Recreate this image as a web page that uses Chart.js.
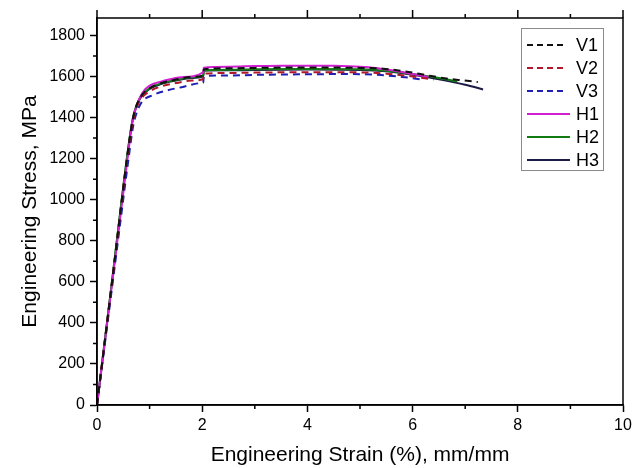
<!DOCTYPE html>
<html>
<head>
<meta charset="utf-8">
<script src="https://cdn.jsdelivr.net/npm/chart.js@4"></script>
<style>
  html, body { margin: 0; padding: 0; background: #fff; }
</style>
</head>
<body>
<canvas id="stressStrain" width="639" height="468"></canvas>
<script>
// strain in %, stress in MPa
const v1Strain = [0, 0.3, 0.6, 0.68, 0.75, 0.85, 1.0, 1.2, 1.5, 1.8, 2.02, 2.03, 2.5, 3, 4, 5, 5.44, 5.86, 6.36, 6.68, 6.96, 7.24];
const v1Stress = [0, 630, 1260, 1392, 1458, 1508, 1543, 1566, 1585, 1598, 1606, 1636, 1640, 1642, 1644, 1642, 1638, 1625, 1602, 1589, 1581, 1573];

const v2Strain = [0, 0.3, 0.6, 0.68, 0.75, 0.85, 1.0, 1.2, 1.5, 1.8, 2.02, 2.03, 2.5, 3, 4, 5, 5.5, 6, 6.4];
const v2Stress = [0, 625, 1250, 1380, 1445, 1495, 1528, 1550, 1568, 1580, 1588, 1614, 1617, 1619, 1621, 1620, 1614, 1600, 1585];

const v3Strain = [0, 0.3, 0.6, 0.69, 0.75, 0.85, 1.08, 1.33, 1.61, 1.99, 2.02, 2.03, 2.5, 3, 4, 4.8, 5.4, 5.8, 6.2];
const v3Stress = [0, 600, 1200, 1362, 1420, 1475, 1511, 1532, 1548, 1568, 1570, 1602, 1605, 1608, 1611, 1612, 1607, 1598, 1585];

const h1Strain = [0, 0.3, 0.6, 0.66, 0.72, 0.82, 0.92, 1.08, 1.23, 1.61, 2.02, 2.03, 2.5, 3, 3.5, 4, 4.5, 5, 5.3, 5.6, 6.0, 6.3];
const h1Stress = [0, 620, 1240, 1360, 1430, 1500, 1540, 1565, 1576, 1597, 1621, 1643, 1648, 1651, 1653, 1653, 1652, 1648, 1642, 1630, 1612, 1598];

const h2Strain = [0, 0.3, 0.6, 0.68, 0.75, 0.85, 1.0, 1.2, 1.5, 1.8, 2.02, 2.03, 2.5, 3, 4, 5, 5.5, 6, 6.5, 6.85];
const h2Stress = [0, 635, 1265, 1395, 1460, 1510, 1543, 1565, 1583, 1596, 1604, 1630, 1633, 1635, 1637, 1635, 1628, 1612, 1593, 1576];

const h3Strain = [0, 0.3, 0.6, 0.68, 0.75, 0.85, 1.0, 1.2, 1.5, 1.8, 2.02, 2.03, 2.5, 3, 4, 5, 5.5, 6, 6.5, 7, 7.34];
const h3Stress = [0, 630, 1260, 1390, 1455, 1505, 1540, 1562, 1580, 1593, 1601, 1628, 1630, 1632, 1634, 1632, 1625, 1608, 1586, 1560, 1537];

const xTickLabels = [0, 2, 4, 6, 8, 10];
const yTickLabels = [0, 200, 400, 600, 800, 1000, 1200, 1400, 1600, 1800];

const FONT = "'Liberation Sans', Arial, sans-serif";

const toPoints = (xs, ys) => xs.map((x, i) => ({ x: x, y: ys[i] }));

const series = [
  { label: "V1", x: v1Strain, y: v1Stress, color: "#111111", dash: [7, 5] },
  { label: "V2", x: v2Strain, y: v2Stress, color: "#b2182b", dash: [7, 5] },
  { label: "V3", x: v3Strain, y: v3Stress, color: "#1f1fb4", dash: [7, 5] },
  { label: "H1", x: h1Strain, y: h1Stress, color: "#d21fd2", dash: [] },
  { label: "H2", x: h2Strain, y: h2Stress, color: "#127a12", dash: [] },
  { label: "H3", x: h3Strain, y: h3Stress, color: "#1b1b46", dash: [] },
];

const datasets = series.map((s) => ({
  label: s.label,
  data: toPoints(s.x, s.y),
  borderColor: s.color,
  backgroundColor: s.color,
  borderDash: s.dash,
  borderWidth: 2,
  pointRadius: 0,
  fill: false,
  cubicInterpolationMode: "monotone",
}));

// frame, minor ticks, top ticks and the boxed legend
const frameAndLegend = {
  id: "frameAndLegend",
  afterDraw(chart) {
    const { ctx, chartArea: a, scales } = chart;
    ctx.save();
    ctx.strokeStyle = "#000";
    ctx.lineWidth = 1.5;
    ctx.strokeRect(a.left, a.top, a.right - a.left, a.bottom - a.top);

    ctx.beginPath();
    for (let v = 1; v < 10; v += 2) {
      const px = scales.x.getPixelForValue(v);
      ctx.moveTo(px, a.bottom);
      ctx.lineTo(px, a.bottom + 4);
      ctx.moveTo(px, a.top);
      ctx.lineTo(px, a.top - 4);
    }
    xTickLabels.forEach((v) => {
      const px = scales.x.getPixelForValue(v);
      ctx.moveTo(px, a.top);
      ctx.lineTo(px, a.top - 8);
    });
    for (let v = 100; v < 1850; v += 200) {
      const py = scales.y.getPixelForValue(v);
      ctx.moveTo(a.left, py);
      ctx.lineTo(a.left - 4, py);
    }
    ctx.stroke();

    // legend box
    const bx = 521, by = 28, bw = 82, bh = 142;
    ctx.strokeStyle = "#8a8a8a";
    ctx.lineWidth = 1;
    ctx.strokeRect(bx + 0.5, by + 0.5, bw, bh);
    ctx.font = "18px " + FONT;
    ctx.textBaseline = "middle";
    ctx.fillStyle = "#000";
    chart.data.datasets.forEach((ds, i) => {
      const cy = 45 + i * 23;
      ctx.beginPath();
      ctx.strokeStyle = ds.borderColor;
      ctx.lineWidth = 2;
      ctx.setLineDash(ds.borderDash.length ? [6, 4] : []);
      ctx.moveTo(527, cy);
      ctx.lineTo(ds.borderDash.length ? 565 : 570, cy);
      ctx.stroke();
      ctx.setLineDash([]);
      ctx.fillText(ds.label, 576, cy + 1);
    });
    ctx.restore();
  },
};

const chart = new Chart(document.getElementById("stressStrain"), {
  type: "line",
  data: { datasets: datasets },
  options: {
    responsive: false,
    animation: false,
    devicePixelRatio: 1,
    layout: { padding: { top: 18, right: 16, left: 0, bottom: 0 } },
    plugins: {
      legend: { display: false },
      tooltip: { enabled: false },
    },
    scales: {
      x: {
        type: "linear",
        min: 0,
        max: 10,
        ticks: {
          stepSize: 2,
          color: "#000",
          padding: 4,
          font: { family: FONT, size: 16 },
          callback: (v) => String(v),
        },
        grid: { drawOnChartArea: false, tickLength: 7, tickColor: "#000", tickWidth: 1.5 },
        border: { color: "#000", width: 1.5 },
        title: {
          display: true,
          text: "Engineering Strain (%), mm/mm",
          color: "#000",
          font: { family: FONT, size: 21 },
          padding: { top: 0, bottom: 0 },
        },
        afterFit: (s) => { s.height = 63; },
      },
      y: {
        type: "linear",
        min: 0,
        max: 1885,
        ticks: {
          stepSize: 200,
          includeBounds: false,
          color: "#000",
          padding: 5,
          font: { family: FONT, size: 16 },
          callback: (v) => String(v),
        },
        grid: { drawOnChartArea: false, tickLength: 7, tickColor: "#000", tickWidth: 1.5 },
        border: { color: "#000", width: 1.5 },
        title: {
          display: true,
          text: "Engineering Stress, MPa",
          color: "#000",
          font: { family: FONT, size: 21 },
          padding: { top: 18, bottom: 0 },
        },
        afterFit: (s) => { s.width = 97; },
      },
    },
  },
  plugins: [frameAndLegend],
});
</script>
</body>
</html>
